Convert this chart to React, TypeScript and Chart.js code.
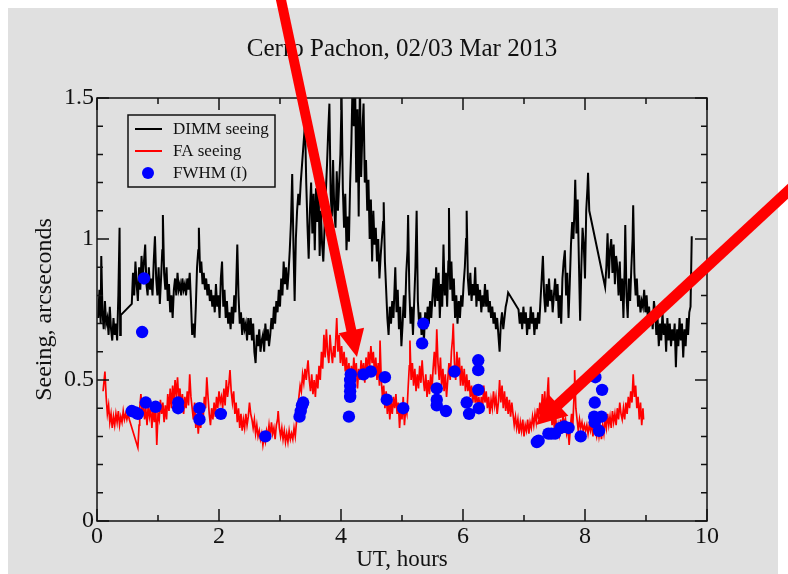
import React, { useEffect, useRef } from "react";
import { Chart, registerables } from "chart.js";

Chart.register(...registerables);

const TITLE = "Cerro Pachon, 02/03 Mar 2013";
const X_LABEL = "UT, hours";
const Y_LABEL = "Seeing, arcseconds";

const X_TICKS = [0, 2, 4, 6, 8, 10];
const X_MINOR = [1, 3, 5, 7, 9];
const Y_TICKS = [0, 0.5, 1, 1.5];
const Y_MINOR = [0.1, 0.2, 0.3, 0.4, 0.6, 0.7, 0.8, 0.9, 1.1, 1.2, 1.3, 1.4];

const SERIES_NAMES = ["DIMM seeing", "FA seeing", "FWHM (I)"];

// DIMM seeing: [UT hours, arcsec]
const DIMM_SEEING = [
  [0.02,0.72],[0.04,0.82],[0.06,0.70],[0.07,0.94],[0.09,0.74],[0.11,0.68],[0.13,0.78],[0.15,0.70],[0.17,0.72],[0.19,0.66],
  [0.21,0.76],[0.23,0.68],[0.25,0.64],[0.27,0.72],[0.29,0.66],[0.31,0.70],[0.33,0.64],[0.35,0.80],[0.37,1.04],[0.38,0.66],[0.39,0.73],
  [0.57,0.77],[0.59,0.88],[0.61,0.80],[0.63,0.92],[0.65,0.84],[0.67,0.78],[0.69,0.90],[0.71,0.82],[0.73,0.94],[0.75,0.86],
  [0.77,0.92],[0.79,0.98],[0.81,0.84],[0.83,0.80],[0.85,0.90],[0.87,0.82],[0.89,0.86],[0.91,0.80],[0.93,0.92],[0.95,1.01],
  [0.97,0.86],[0.99,0.80],[1.01,0.90],[1.03,0.77],[1.05,0.86],[1.07,0.96],[1.08,1.085],[1.10,0.88],[1.12,0.82],[1.14,0.90],
  [1.16,0.78],[1.18,0.84],[1.20,0.74],[1.22,0.80],[1.24,0.72],[1.26,0.82],[1.28,0.86],[1.30,0.80],[1.32,0.88],[1.34,0.82],
  [1.36,0.84],[1.38,0.80],[1.40,0.86],[1.42,0.82],[1.44,0.84],[1.46,0.80],[1.48,0.86],[1.50,0.82],[1.52,0.88],[1.54,0.78],
  [1.56,0.66],[1.58,0.70],[1.60,0.65],[1.62,0.76],[1.64,0.90],[1.66,0.96],[1.67,1.04],[1.69,0.88],[1.71,0.92],[1.73,0.84],
  [1.75,0.88],[1.77,0.82],[1.79,0.86],[1.81,0.80],[1.83,0.84],[1.85,0.78],[1.87,0.82],[1.89,0.76],[1.91,0.80],[1.93,0.74],
  [1.95,0.84],[1.97,0.76],[1.99,0.80],[2.01,0.72],[2.03,0.86],[2.05,0.92],[2.07,0.76],[2.09,0.82],[2.11,0.72],[2.13,0.78],
  [2.15,0.70],[2.17,0.74],[2.19,0.68],[2.21,0.76],[2.23,0.70],[2.25,0.80],[2.27,0.74],[2.29,0.90],[2.30,0.98],[2.32,0.80],
  [2.34,0.70],[2.36,0.74],[2.38,0.66],[2.40,0.72],[2.42,0.68],[2.44,0.70],[2.46,0.64],[2.48,0.72],[2.50,0.66],
  [2.52,0.72],[2.54,0.64],[2.56,0.70],[2.58,0.60],[2.60,0.56],[2.62,0.66],[2.64,0.62],[2.66,0.68],[2.68,0.60],[2.70,0.64],
  [2.72,0.66],[2.74,0.60],[2.76,0.70],[2.78,0.64],[2.80,0.68],[2.82,0.62],[2.84,0.66],[2.86,0.72],[2.88,0.68],[2.90,0.76],
  [2.92,0.70],[2.94,0.78],[2.96,0.74],[2.98,0.82],[3.00,0.76],[3.02,0.86],[3.04,0.80],[3.06,0.92],[3.08,0.84],[3.10,0.90],
  [3.12,0.82],[3.14,0.88],[3.16,0.96],[3.18,1.06],[3.20,1.23],[3.22,0.98],[3.24,0.78],[3.26,1.00],[3.28,1.10],[3.30,1.16],
  [3.32,1.12],[3.34,1.20],[3.36,1.26],[3.38,1.32],[3.40,1.38],[3.41,1.42],[3.43,1.20],[3.45,1.05],[3.47,0.93],[3.49,1.10],
  [3.51,1.20],[3.53,1.02],[3.55,1.16],[3.57,0.96],[3.59,1.18],[3.61,1.06],[3.63,1.22],[3.65,0.94],[3.67,1.10],[3.69,0.98],
  [3.71,0.92],[3.73,1.04],[3.75,1.16],[3.77,1.26],[3.79,1.38],[3.81,1.48],[3.83,1.16],[3.85,1.08],[3.87,1.28],[3.89,1.10],
  [3.91,1.04],[3.93,1.24],[3.95,1.10],[3.97,1.20],[3.99,1.30],[4.01,1.50],[4.03,1.18],[4.05,1.04],[4.07,1.16],[4.09,0.96],
  [4.11,1.08],[4.13,0.99],[4.15,1.20],[4.17,1.34],[4.19,1.56],[4.21,1.40],[4.23,1.58],[4.25,1.20],[4.27,1.46],[4.29,1.08],
  [4.31,1.56],[4.33,1.22],[4.35,1.38],[4.37,1.48],[4.39,1.20],[4.41,1.28],[4.43,1.10],[4.45,1.21],[4.47,1.00],[4.49,1.14],
  [4.51,0.92],[4.53,1.10],[4.55,0.98],[4.57,1.04],[4.59,0.92],[4.61,1.00],[4.63,0.86],[4.65,0.94],[4.67,1.00],[4.69,1.06],
  [4.70,1.13],[4.72,0.92],[4.74,0.82],[4.76,0.72],[4.78,0.66],[4.80,0.76],[4.82,0.70],[4.84,0.78],[4.86,0.72],[4.88,0.84],
  [4.89,0.90],[4.91,0.74],[4.93,0.82],[4.95,0.68],[4.97,0.76],[4.99,0.62],[5.01,0.70],[5.03,0.80],[5.05,0.72],
  [5.07,0.88],[5.09,0.96],[5.10,1.085],[5.12,0.82],[5.14,0.70],[5.16,0.76],[5.18,0.66],[5.20,0.78],[5.22,0.90],[5.24,1.10],
  [5.26,0.78],[5.28,0.70],[5.30,0.74],[5.32,0.66],[5.34,0.72],[5.36,0.64],[5.38,0.74],[5.40,0.68],[5.42,0.76],[5.44,0.70],
  [5.46,0.78],[5.48,0.72],[5.50,0.80],[5.52,0.86],[5.54,0.76],[5.56,0.90],[5.58,0.78],[5.60,0.88],[5.62,0.72],[5.64,0.84],
  [5.66,0.76],[5.68,0.98],[5.70,0.80],[5.72,0.88],[5.74,0.76],[5.76,0.92],[5.77,1.11],[5.79,0.82],[5.81,0.92],[5.83,0.78],
  [5.85,0.86],[5.87,0.72],[5.89,0.80],[5.91,0.70],[5.93,0.78],[5.95,0.72],[5.97,0.80],[5.99,0.76],[6.01,0.84],[6.03,0.90],
  [6.05,1.00],[6.06,1.10],[6.08,0.86],[6.10,0.80],[6.12,0.88],[6.14,0.78],[6.16,0.84],[6.18,0.80],[6.20,0.90],[6.22,0.76],
  [6.24,0.84],[6.26,0.78],[6.28,0.82],[6.30,0.74],[6.32,0.80],[6.34,0.76],[6.36,0.84],[6.38,0.76],[6.40,0.82],[6.42,0.74],
  [6.44,0.78],[6.46,0.72],[6.48,0.76],[6.50,0.70],[6.52,0.74],[6.54,0.68],[6.56,0.72],[6.58,0.66],[6.60,0.60],[6.62,0.70],
  [6.64,0.74],[6.66,0.68],[6.68,0.72],[6.70,0.76],[6.72,0.78],[6.74,0.81],
  [6.91,0.75],[6.93,0.70],[6.95,0.74],[6.97,0.68],[6.99,0.76],[7.01,0.70],[7.03,0.74],[7.05,0.66],[7.07,0.72],[7.09,0.68],
  [7.11,0.76],[7.13,0.70],[7.15,0.74],[7.17,0.66],[7.19,0.72],[7.21,0.68],[7.23,0.74],[7.25,0.70],[7.27,0.78],[7.29,0.86],
  [7.31,0.94],[7.33,0.80],[7.35,0.74],[7.37,0.84],[7.39,0.76],[7.41,0.86],[7.43,0.78],[7.45,0.82],[7.47,0.74],[7.49,0.80],
  [7.51,0.86],[7.53,0.78],[7.55,0.84],[7.57,0.72],[7.59,0.80],[7.61,0.70],[7.63,0.86],[7.65,0.92],[7.67,0.96],[7.69,0.80],
  [7.71,0.88],[7.73,0.72],[7.75,0.84],[7.77,0.98],[7.79,1.06],[7.81,1.00],[7.83,1.12],[7.84,1.21],[7.86,1.02],[7.88,1.14],
  [7.90,0.92],[7.92,0.71],[7.94,0.90],[7.96,1.04],[7.98,0.98],[8.00,0.86],[8.02,1.10],[8.04,1.18],[8.05,1.235],[8.07,1.10],
  [8.09,1.08],
  [8.33,0.83],[8.35,0.90],[8.37,1.02],[8.39,0.86],[8.41,0.96],[8.43,1.00],[8.45,0.88],[8.47,0.98],[8.49,0.84],[8.51,0.94],
  [8.53,0.90],[8.55,0.80],[8.57,0.92],[8.59,0.78],[8.61,0.86],[8.63,0.72],[8.65,0.90],[8.66,1.05],[8.68,0.80],[8.70,0.72],
  [8.72,0.86],[8.74,0.78],[8.76,0.90],[8.78,1.00],[8.79,1.12],[8.81,0.88],[8.83,0.80],[8.85,0.86],[8.87,0.76],[8.89,0.80],
  [8.91,0.74],[8.93,0.78],[8.95,0.76],[8.97,0.82],[8.99,0.74],[9.01,0.80],[9.03,0.72],[9.05,0.76],[9.07,0.70],[9.09,0.74],
  [9.11,0.68],[9.13,0.78],[9.15,0.74],[9.17,0.66],[9.19,0.72],[9.21,0.62],[9.23,0.70],[9.25,0.64],[9.27,0.74],[9.29,0.66],
  [9.31,0.70],[9.33,0.60],[9.35,0.72],[9.37,0.64],[9.39,0.70],[9.41,0.62],[9.43,0.68],[9.45,0.64],[9.47,0.70],[9.49,0.545],
  [9.51,0.68],[9.53,0.62],[9.55,0.72],[9.57,0.64],[9.59,0.70],[9.61,0.58],[9.63,0.68],[9.65,0.62],[9.67,0.72],[9.69,0.66],
  [9.71,0.74],[9.73,0.76],[9.75,1.01],
];

// FA seeing: [UT hours, arcsec]
const FA_SEEING = [
  [0.10,0.46],[0.13,0.53],[0.15,0.44],[0.17,0.38],[0.19,0.41],[0.21,0.35],[0.23,0.38],[0.25,0.33],[0.27,0.37],[0.29,0.34],
  [0.31,0.38],[0.33,0.35],[0.35,0.39],[0.37,0.34],[0.39,0.37],[0.41,0.35],[0.43,0.39],[0.45,0.36],[0.47,0.38],[0.49,0.36],
  [0.51,0.38],[0.53,0.36],[0.67,0.26],[0.69,0.34],[0.70,0.40],[0.72,0.45],[0.74,0.38],[0.76,0.42],[0.78,0.36],[0.80,0.40],
  [0.82,0.34],[0.84,0.41],[0.86,0.37],[0.88,0.40],[0.90,0.33],[0.92,0.40],[0.94,0.35],[0.96,0.42],[0.98,0.27],[1.00,0.38],
  [1.02,0.36],[1.04,0.43],[1.06,0.38],[1.08,0.42],[1.10,0.35],[1.12,0.41],[1.14,0.36],[1.16,0.45],[1.18,0.39],[1.20,0.47],
  [1.22,0.40],[1.24,0.48],[1.26,0.42],[1.28,0.50],[1.30,0.44],[1.32,0.51],[1.34,0.43],[1.36,0.47],[1.38,0.40],[1.40,0.45],
  [1.42,0.38],[1.44,0.44],[1.46,0.40],[1.48,0.46],[1.50,0.41],[1.52,0.52],[1.54,0.44],[1.56,0.40],[1.58,0.36],[1.60,0.42],
  [1.62,0.33],[1.64,0.38],[1.66,0.31],[1.68,0.37],[1.70,0.33],[1.72,0.40],[1.74,0.36],[1.76,0.44],[1.78,0.40],[1.80,0.51],
  [1.82,0.44],[1.84,0.38],[1.86,0.34],[1.88,0.40],[1.90,0.36],[1.92,0.42],[1.94,0.37],[1.96,0.44],[1.98,0.40],[2.00,0.46],
  [2.02,0.42],[2.04,0.44],[2.06,0.40],[2.08,0.47],[2.10,0.41],[2.12,0.50],[2.14,0.44],[2.16,0.48],[2.18,0.535],[2.20,0.46],
  [2.22,0.42],[2.24,0.46],[2.26,0.38],[2.28,0.42],[2.30,0.35],[2.32,0.40],[2.34,0.33],[2.36,0.38],[2.38,0.32],[2.40,0.36],
  [2.42,0.33],[2.44,0.38],[2.46,0.34],[2.48,0.37],[2.50,0.42],[2.52,0.38],[2.54,0.36],[2.56,0.33],[2.58,0.36],[2.60,0.31],
  [2.62,0.34],[2.64,0.30],[2.66,0.32],[2.68,0.29],[2.70,0.31],[2.72,0.27],[2.74,0.30],[2.76,0.28],[2.78,0.32],
  [2.80,0.30],[2.82,0.34],[2.84,0.30],[2.86,0.35],[2.88,0.31],[2.90,0.33],[2.92,0.29],[2.94,0.34],[2.96,0.36],[2.97,0.39],
  [2.99,0.33],[3.01,0.30],[3.03,0.33],[3.05,0.29],[3.07,0.32],[3.09,0.28],[3.11,0.31],[3.13,0.28],[3.15,0.32],[3.17,0.29],
  [3.19,0.31],[3.21,0.29],[3.23,0.33],[3.25,0.30],[3.27,0.35],[3.29,0.40],[3.31,0.44],[3.33,0.48],[3.35,0.46],[3.37,0.52],
  [3.39,0.49],[3.41,0.54],[3.43,0.50],[3.45,0.55],[3.46,0.57],[3.48,0.50],[3.50,0.46],[3.52,0.52],[3.54,0.45],[3.56,0.50],
  [3.58,0.44],[3.60,0.52],[3.62,0.47],[3.64,0.55],[3.66,0.50],[3.68,0.60],[3.70,0.54],[3.72,0.66],[3.74,0.58],[3.76,0.68],
  [3.78,0.60],[3.80,0.56],[3.82,0.66],[3.84,0.60],[3.86,0.56],[3.88,0.62],[3.90,0.58],[3.93,0.72],[3.95,0.60],[3.97,0.66],
  [3.99,0.56],[4.01,0.62],[4.03,0.55],[4.05,0.60],[4.07,0.53],[4.09,0.58],[4.11,0.50],[4.13,0.56],[4.15,0.48],[4.17,0.55],
  [4.19,0.50],[4.21,0.58],[4.23,0.52],[4.25,0.56],[4.27,0.47],[4.29,0.54],[4.31,0.50],[4.33,0.57],[4.35,0.52],[4.37,0.56],
  [4.39,0.49],[4.41,0.58],[4.43,0.53],[4.45,0.60],[4.47,0.55],[4.49,0.62],[4.51,0.56],[4.53,0.60],[4.55,0.52],[4.57,0.58],
  [4.59,0.50],[4.61,0.56],[4.63,0.48],[4.64,0.64],[4.66,0.50],[4.68,0.44],[4.70,0.48],[4.72,0.40],[4.74,0.46],[4.76,0.38],
  [4.78,0.44],[4.80,0.36],[4.82,0.42],[4.84,0.38],[4.86,0.44],[4.88,0.40],[4.90,0.45],[4.92,0.38],[4.94,0.42],[4.96,0.33],
  [4.98,0.40],[5.00,0.36],[5.02,0.44],[5.04,0.34],[5.06,0.40],[5.08,0.38],[5.10,0.47],[5.12,0.55],[5.13,0.64],[5.15,0.50],
  [5.17,0.56],[5.19,0.48],[5.21,0.54],[5.23,0.46],[5.25,0.52],[5.27,0.47],[5.29,0.55],[5.31,0.49],[5.33,0.57],[5.35,0.50],
  [5.37,0.46],[5.39,0.52],[5.41,0.44],[5.43,0.50],[5.45,0.45],[5.47,0.52],[5.49,0.46],[5.51,0.54],[5.53,0.60],[5.55,0.52],
  [5.57,0.68],[5.59,0.56],[5.61,0.50],[5.63,0.58],[5.65,0.48],[5.67,0.54],[5.69,0.46],[5.71,0.52],[5.73,0.44],[5.75,0.50],
  [5.77,0.56],[5.79,0.50],[5.81,0.60],[5.83,0.65],[5.84,0.70],[5.86,0.56],[5.88,0.50],[5.90,0.60],[5.92,0.52],[5.94,0.58],
  [5.96,0.48],[5.98,0.55],[6.00,0.48],[6.02,0.54],[6.04,0.46],[6.06,0.52],[6.08,0.46],[6.10,0.50],[6.12,0.44],[6.14,0.48],
  [6.16,0.42],[6.18,0.47],[6.20,0.42],[6.22,0.46],[6.24,0.40],[6.26,0.44],[6.28,0.38],[6.30,0.44],[6.32,0.40],[6.34,0.48],
  [6.36,0.42],[6.38,0.46],[6.40,0.40],[6.42,0.44],[6.44,0.38],[6.46,0.43],[6.48,0.40],[6.50,0.46],[6.52,0.41],[6.54,0.44],
  [6.56,0.38],[6.58,0.42],[6.60,0.50],[6.62,0.42],[6.64,0.48],[6.66,0.40],[6.68,0.46],[6.70,0.39],[6.72,0.44],[6.74,0.38],
  [6.76,0.43],[6.78,0.37],[6.80,0.42],[6.82,0.38],[6.84,0.34],[6.86,0.37],[6.88,0.33],[6.90,0.36],[6.92,0.31],[6.94,0.35],
  [6.96,0.32],[6.98,0.36],[7.00,0.30],[7.02,0.34],[7.04,0.32],[7.06,0.36],[7.08,0.31],[7.10,0.35],[7.12,0.33],[7.14,0.37],
  [7.16,0.34],[7.18,0.38],[7.20,0.35],[7.22,0.40],[7.24,0.36],[7.26,0.42],[7.28,0.37],[7.30,0.45],[7.32,0.38],[7.34,0.46],
  [7.36,0.36],[7.38,0.44],[7.40,0.51],[7.42,0.36],[7.44,0.40],[7.46,0.34],[7.48,0.38],[7.50,0.32],[7.52,0.37],[7.54,0.30],
  [7.56,0.34],[7.58,0.31],[7.60,0.36],[7.62,0.31],[7.64,0.38],[7.66,0.34],[7.68,0.36],[7.70,0.31],[7.72,0.33],[7.74,0.27],
  [7.76,0.33],[7.78,0.38],[7.80,0.34],[7.82,0.44],[7.83,0.535],[7.85,0.40],[7.87,0.36],[7.89,0.32],[7.91,0.36],[7.93,0.33],
  [7.95,0.35],[7.97,0.32],[7.99,0.34],[8.01,0.32],[8.03,0.34],[8.05,0.31],[8.07,0.34],[8.09,0.32],[8.11,0.35],[8.13,0.30],
  [8.15,0.34],[8.17,0.32],[8.19,0.30],[8.21,0.34],[8.23,0.30],[8.25,0.33],[8.27,0.29],[8.29,0.34],[8.31,0.31],[8.33,0.36],
  [8.35,0.33],[8.37,0.38],[8.39,0.34],[8.41,0.37],[8.43,0.33],[8.45,0.39],[8.47,0.35],[8.49,0.38],[8.51,0.34],[8.53,0.40],
  [8.55,0.36],[8.57,0.42],[8.59,0.38],[8.61,0.36],[8.63,0.40],[8.65,0.36],[8.67,0.42],[8.69,0.38],[8.71,0.44],[8.73,0.40],
  [8.75,0.46],[8.77,0.42],[8.79,0.52],[8.81,0.44],[8.83,0.48],[8.85,0.40],[8.87,0.44],[8.89,0.36],[8.91,0.42],[8.93,0.34],
  [8.95,0.40],[8.96,0.36],
];

// FWHM (I) image quality: [UT hours, arcsec]
const FWHM_I = [
  [0.57,0.39],[0.63,0.385],[0.67,0.38],[0.74,0.67],[0.77,0.86],[0.80,0.42],[0.96,0.405],[1.33,0.42],[1.33,0.40],
  [1.68,0.40],[1.68,0.36],[2.03,0.38],[2.76,0.30],[3.32,0.37],[3.34,0.39],[3.36,0.41],[3.38,0.42],
  [4.13,0.37],[4.15,0.44],[4.15,0.46],[4.15,0.48],[4.15,0.50],[4.16,0.52],[4.37,0.52],[4.49,0.53],[4.72,0.51],[4.75,0.43],
  [5.02,0.40],[5.33,0.63],[5.35,0.70],[5.57,0.47],[5.57,0.43],[5.57,0.41],[5.72,0.39],[5.86,0.53],[6.06,0.42],[6.10,0.38],
  [6.25,0.57],[6.25,0.535],[6.25,0.465],[6.26,0.40],
  [7.21,0.28],[7.24,0.285],[7.40,0.31],[7.45,0.31],[7.51,0.31],[7.60,0.33],[7.66,0.335],[7.73,0.33],[7.93,0.30],
  [8.15,0.37],[8.16,0.42],[8.17,0.51],[8.16,0.35],[8.23,0.32],[8.27,0.37],[8.28,0.465],
];

// Overlaid red arrows, in data units [UT hours, arcsec]
const ARROW_FROM = [[3.0, 1.865], [11.525, 1.209]];
const ARROW_TO = [[4.262, 0.582], [7.20, 0.34]];

const FONT = "'Liberation Serif', 'Times New Roman', serif";
const GREY = "#e0e0e0";
const toXY = (arr: number[][]) => arr.map(([x, y]) => ({ x, y }));

const bgPlugin = {
  id: "bg",
  beforeDraw(chart: any) {
    const { ctx, width, height } = chart;
    ctx.save();
    ctx.fillStyle = "#ffffff";
    ctx.fillRect(0, 0, width, height);
    ctx.fillStyle = GREY;
    ctx.fillRect(8, 8, width - 18, height - 8);
    ctx.restore();
  },
};

const framePlugin = {
  id: "frame",
  afterDatasetsDraw(chart: any) {
    const { ctx, chartArea: a, scales } = chart;
    const xs = scales.x, ys = scales.y;
    ctx.save();
    ctx.strokeStyle = "#111";
    ctx.lineWidth = 1.5;
    ctx.strokeRect(a.left, a.top, a.right - a.left, a.bottom - a.top);
    const tick = (vals: number[], len: number, horiz: boolean) => {
      vals.forEach((v) => {
        ctx.beginPath();
        if (horiz) {
          const p = xs.getPixelForValue(v);
          ctx.moveTo(p, a.bottom); ctx.lineTo(p, a.bottom - len);
          ctx.moveTo(p, a.top); ctx.lineTo(p, a.top + len);
        } else {
          const p = ys.getPixelForValue(v);
          ctx.moveTo(a.left, p); ctx.lineTo(a.left + len, p);
          ctx.moveTo(a.right, p); ctx.lineTo(a.right - len, p);
        }
        ctx.stroke();
      });
    };
    tick(X_TICKS, 12, true);
    tick(X_MINOR, 6, true);
    tick(Y_TICKS, 12, false);
    tick(Y_MINOR, 6, false);

    // legend
    const x0 = a.left + 31, y0 = a.top + 17, w = 147, h = 72;
    ctx.lineWidth = 1.5;
    ctx.strokeStyle = "#111";
    ctx.strokeRect(x0, y0, w, h);
    const ds = chart.data.datasets;
    const rows = [14, 36, 58];
    ctx.font = `17px ${FONT}`;
    ctx.textBaseline = "middle";
    ctx.textAlign = "left";
    ds.forEach((d: any, i: number) => {
      const yy = y0 + rows[i];
      if (d.showLine === false) {
        ctx.fillStyle = d.pointBackgroundColor;
        ctx.beginPath();
        ctx.arc(x0 + 20, yy, 6, 0, Math.PI * 2);
        ctx.fill();
      } else {
        ctx.strokeStyle = d.borderColor;
        ctx.lineWidth = 2;
        ctx.beginPath();
        ctx.moveTo(x0 + 7, yy);
        ctx.lineTo(x0 + 34, yy);
        ctx.stroke();
      }
      ctx.fillStyle = "#111";
      ctx.fillText(d.label, x0 + 45, yy + 1);
    });
    ctx.restore();
  },
};

const arrowPlugin = {
  id: "arrows",
  afterDraw(chart: any) {
    const { ctx, scales } = chart;
    const xs = scales.x, ys = scales.y;
    const widths = [10, 11];
    const heads = [[27, 13], [30, 15]];
    ctx.save();
    ctx.fillStyle = "#ff0000";
    ctx.strokeStyle = "#ff0000";
    ARROW_FROM.forEach((f, i) => {
      const t = ARROW_TO[i];
      const x0 = xs.getPixelForValue(f[0]), y0 = ys.getPixelForValue(f[1]);
      const x1 = xs.getPixelForValue(t[0]), y1 = ys.getPixelForValue(t[1]);
      const dx = x1 - x0, dy = y1 - y0;
      const len = Math.hypot(dx, dy);
      const ux = dx / len, uy = dy / len;
      const [L, W] = heads[i];
      const bx = x1 - ux * L, by = y1 - uy * L;
      ctx.lineWidth = widths[i];
      ctx.lineCap = "butt";
      ctx.beginPath();
      ctx.moveTo(x0, y0);
      ctx.lineTo(bx + ux * 2, by + uy * 2);
      ctx.stroke();
      ctx.beginPath();
      ctx.moveTo(x1, y1);
      ctx.lineTo(bx - uy * W, by + ux * W);
      ctx.lineTo(bx + uy * W, by - ux * W);
      ctx.closePath();
      ctx.fill();
    });
    ctx.restore();
  },
};

export default function App() {
  const ref = useRef<HTMLCanvasElement | null>(null);
  useEffect(() => {
    if (!ref.current) return;
    const chart = new Chart(ref.current, {
      type: "line",
      data: {
        datasets: [
          {
            label: SERIES_NAMES[0],
            data: toXY(DIMM_SEEING),
            borderColor: "#000000",
            borderWidth: 2,
            pointRadius: 0,
            tension: 0,
            order: 3,
          },
          {
            label: SERIES_NAMES[1],
            data: toXY(FA_SEEING),
            borderColor: "#ff0000",
            borderWidth: 1.7,
            pointRadius: 0,
            tension: 0,
            order: 2,
          },
          {
            label: SERIES_NAMES[2],
            data: toXY(FWHM_I),
            showLine: false,
            pointRadius: 6.2,
            pointBackgroundColor: "#0000ff",
            pointBorderColor: "#0000ff",
            pointBorderWidth: 0,
            borderColor: "#0000ff",
            order: 1,
          },
        ],
      } as any,
      options: {
        animation: false,
        responsive: false,
        events: [],
        layout: { padding: { left: 8, top: 8, right: 81, bottom: 0 } },
        plugins: {
          legend: { display: false },
          tooltip: { enabled: false },
          title: {
            display: true,
            text: TITLE,
            fullSize: false,
            color: "#111",
            font: { family: FONT, size: 25, weight: "normal" },
            padding: { top: 26, bottom: 34 },
          },
        },
        scales: {
          x: {
            type: "linear",
            min: 0,
            max: 10,
            afterBuildTicks: (s: any) => { s.ticks = X_TICKS.map((value) => ({ value })); },
            afterFit: (s: any) => { s.height = 53; s.paddingLeft = 0; s.paddingRight = 0; },
            ticks: {
              color: "#111",
              font: { family: FONT, size: 24 },
              padding: 1,
              maxRotation: 0,
              autoSkip: false,
              callback: (v: any) => String(v),
            },
            grid: { display: false, drawTicks: false, tickLength: 0 },
            border: { display: false },
            title: {
              display: true,
              text: X_LABEL,
              color: "#111",
              font: { family: FONT, size: 23 },
              padding: { top: 0, bottom: 0 },
            },
          },
          y: {
            type: "linear",
            min: 0,
            max: 1.5,
            afterBuildTicks: (s: any) => { s.ticks = Y_TICKS.map((value) => ({ value })); },
            afterFit: (s: any) => { s.width = 89; s.paddingTop = 0; s.paddingBottom = 0; },
            ticks: {
              color: "#111",
              font: { family: FONT, size: 24 },
              padding: 3,
              autoSkip: false,
              callback: (v: any) => String(v),
            },
            grid: { display: false, drawTicks: false, tickLength: 0 },
            border: { display: false },
            title: {
              display: true,
              text: Y_LABEL,
              color: "#111",
              font: { family: FONT, size: 24 },
              padding: { top: 22, bottom: 0 },
            },
          },
        },
      } as any,
      plugins: [bgPlugin, framePlugin, arrowPlugin],
    });
    return () => chart.destroy();
  }, []);
  return (
    <div style={{ position: "fixed", left: 0, top: 0 }}>
      <canvas ref={ref} width={788} height={574} style={{ display: "block" }} />
    </div>
  );
}
